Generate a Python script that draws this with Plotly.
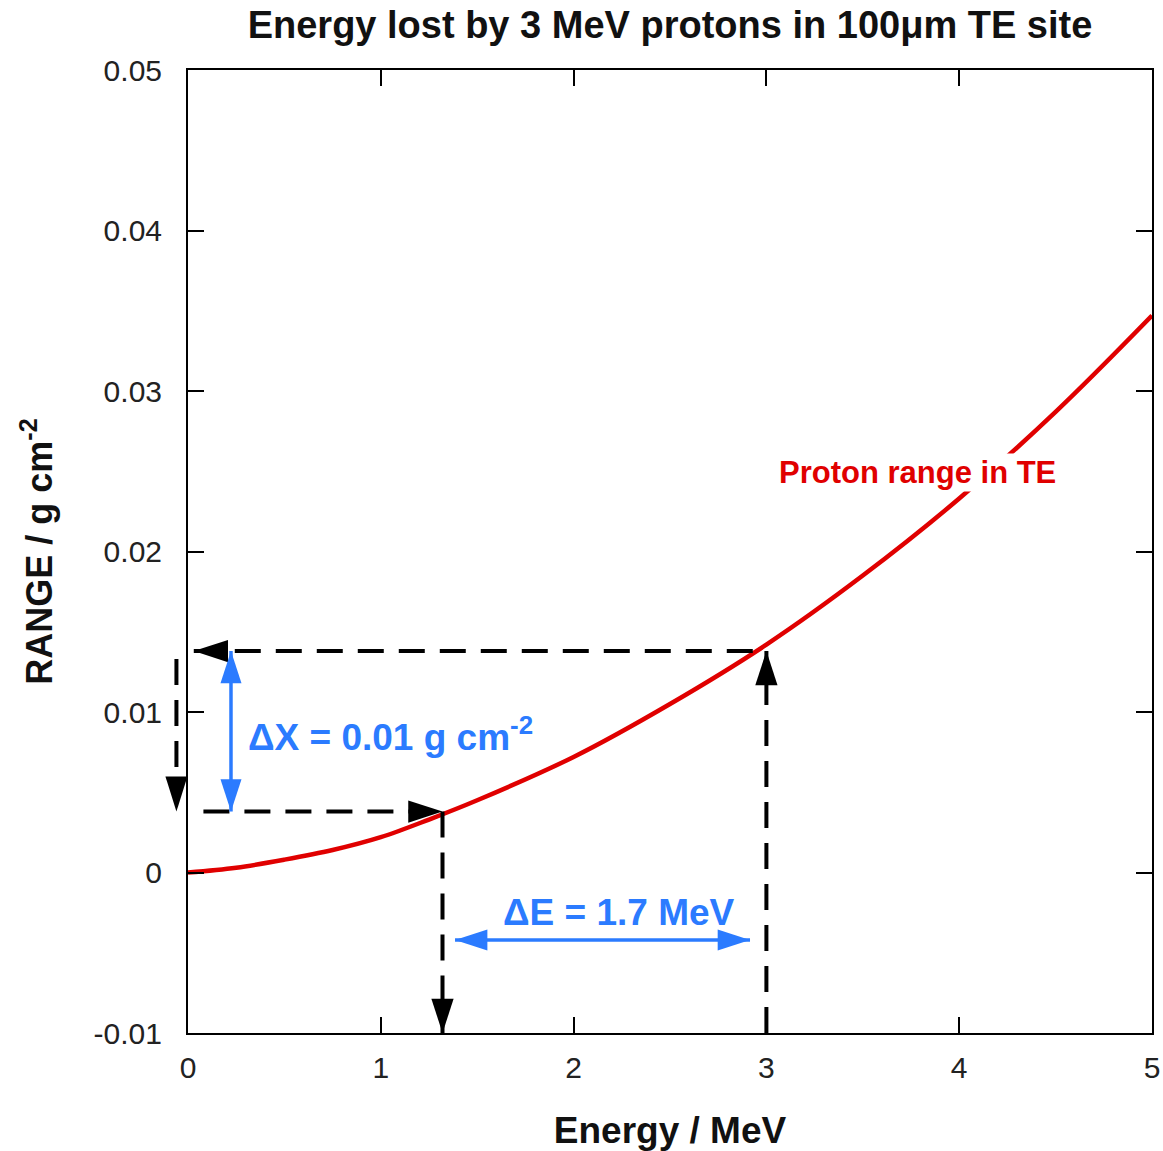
import plotly.graph_objects as go

# ---- data ----
ENERGY = [0, 0.25, 0.5, 0.75, 1.0, 1.25, 1.5, 2.0, 2.5, 3.0, 3.5, 4.0, 4.5, 5.0]
RANGE = [0, 0.0003, 0.0008, 0.0014, 0.0022, 0.0033, 0.0045, 0.0072, 0.0105,
         0.0142, 0.0185, 0.0233, 0.0287, 0.0347]

E_HIGH = 3.0        # incident energy (MeV)
R_HIGH = 0.0138     # range at E_HIGH (g cm-2)
E_LOW = 1.32        # exit energy (MeV)
R_LOW = 0.0038      # range at E_LOW (g cm-2)
E_LEFT_START = [0.03, 0.08]    # left ends of the two horizontal guide lines
E_OUTSIDE = -0.06              # vertical guide left of the axis
DX_ARROW_E = 0.223             # blue delta-X arrow position
DE_ARROW_R = -0.0042           # blue delta-E arrow position
DE_ARROW_E = [1.385, 2.915]

X_RANGE = [0, 5]
Y_RANGE = [-0.01, 0.05]
X_TICKS = [0, 1, 2, 3, 4, 5]
X_TICKTEXT = ["0", "1", "2", "3", "4", "5"]
Y_TICKS = [-0.01, 0, 0.01, 0.02, 0.03, 0.04, 0.05]
Y_TICKTEXT = ["-0.01", "0", "0.01", "0.02", "0.03", "0.04", "0.05"]

TITLE = "Energy lost by 3 MeV protons in 100μm TE site"
X_TITLE = "Energy / MeV"
Y_TITLE = "RANGE / g cm<sup>-2</sup>"
CURVE_LABEL = "Proton range in TE"
DX_LABEL = "ΔX = 0.01 g cm<sup>-2</sup>"
DE_LABEL = "ΔE = 1.7 MeV"

# ---- styles ----
FONT = "Liberation Sans, Arial, sans-serif"
RED = "#e00000"
BLUE = "#2b7bff"
BLACK = "#000000"
DASH = "26px,15px"
HEAD = 36

fig = go.Figure()

# red range curve
fig.add_trace(go.Scatter(x=ENERGY, y=RANGE, mode="lines",
                         line=dict(color=RED, width=4.5, shape="spline", smoothing=1),
                         showlegend=False, hoverinfo="skip"))

# dashed guide lines
guides = [
    ([E_LEFT_START[0], E_HIGH], [R_HIGH, R_HIGH]),
    ([E_HIGH, E_HIGH], [Y_RANGE[0], R_HIGH]),
    ([E_LEFT_START[1], E_LOW], [R_LOW, R_LOW]),
    ([E_LOW, E_LOW], [R_LOW, Y_RANGE[0]]),
]
for gx, gy in guides:
    fig.add_trace(go.Scatter(x=gx, y=gy, mode="lines",
                             line=dict(color=BLACK, width=4, dash=DASH),
                             showlegend=False, hoverinfo="skip"))

# black arrow heads (tips at the points)
fig.add_trace(go.Scatter(
    x=[E_LEFT_START[0], E_HIGH, E_LOW, E_LOW],
    y=[R_HIGH, R_HIGH, R_LOW, Y_RANGE[0]],
    mode="markers",
    marker=dict(symbol="arrow", size=HEAD, color=BLACK,
                angle=[-90, 0, 90, 180], line=dict(width=0)),
    showlegend=False, hoverinfo="skip"))

# blue double arrows
fig.add_trace(go.Scatter(x=[DX_ARROW_E, DX_ARROW_E], y=[R_LOW, R_HIGH],
                         mode="lines+markers",
                         line=dict(color=BLUE, width=3.5),
                         marker=dict(symbol="arrow", size=HEAD - 2, color=BLUE,
                                     angle=[180, 0], line=dict(width=0)),
                         showlegend=False, hoverinfo="skip"))
fig.add_trace(go.Scatter(x=DE_ARROW_E, y=[DE_ARROW_R, DE_ARROW_R],
                         mode="lines+markers",
                         line=dict(color=BLUE, width=3.5),
                         marker=dict(symbol="arrow", size=HEAD - 2, color=BLUE,
                                     angle=[-90, 90], line=dict(width=0)),
                         showlegend=False, hoverinfo="skip"))

# guide left of the y axis (paper x, data y)
x_out = (E_OUTSIDE - X_RANGE[0]) / (X_RANGE[1] - X_RANGE[0])
fig.add_shape(type="line", xref="paper", yref="y",
              x0=x_out, x1=x_out, y0=R_HIGH - 0.0005, y1=R_LOW + 0.0012,
              line=dict(color=BLACK, width=4, dash=DASH))
fig.add_shape(type="path", xref="paper", yref="y",
              xsizemode="pixel", ysizemode="pixel",
              xanchor=x_out, yanchor=R_LOW,
              path="M0,0 L-11,35 L11,35 Z",
              fillcolor=BLACK, line=dict(width=0))

# labels
fig.add_annotation(x=3.785, y=0.0249, xref="x", yref="y", text=CURVE_LABEL,
                   showarrow=False, bgcolor="white", borderpad=1,
                   font=dict(family=FONT, size=31, color=RED, weight="bold"))
fig.add_annotation(x=0.30, y=0.0086, xref="x", yref="y", text=DX_LABEL,
                   xanchor="left", showarrow=False,
                   font=dict(family=FONT, size=37, color=BLUE, weight="bold"))
fig.add_annotation(x=2.235, y=-0.0025, xref="x", yref="y", text=DE_LABEL,
                   showarrow=False,
                   font=dict(family=FONT, size=37, color=BLUE, weight="bold"))

axis_common = dict(showline=True, linecolor=BLACK, linewidth=2, mirror="ticks",
                   ticks="inside", ticklen=16, tickwidth=2, tickcolor=BLACK,
                   showgrid=False, zeroline=False, automargin=False,
                   tickfont=dict(family=FONT, size=30, color="#222222"))

fig.update_layout(
    width=1163, height=1151,
    margin=dict(l=188, r=11, t=70, b=118),
    paper_bgcolor="white", plot_bgcolor="white",
    title=dict(text=TITLE, x=0.5, xref="paper", xanchor="center",
               y=1 - 25 / 1151, yref="container", yanchor="middle",
               font=dict(family=FONT, size=38, color="#111111", weight="bold")),
    xaxis=dict(range=X_RANGE, tickvals=X_TICKS, ticktext=X_TICKTEXT,
               ticklabelstandoff=7,
               title=dict(text=X_TITLE, standoff=34,
                          font=dict(family=FONT, size=37, color="#111111", weight="bold")),
               **axis_common),
    yaxis=dict(range=Y_RANGE, tickvals=Y_TICKS, ticktext=Y_TICKTEXT,
               ticklabelstandoff=18,
               title=dict(text=Y_TITLE, standoff=30,
                          font=dict(family=FONT, size=36, color="#111111", weight="bold")),
               **axis_common),
)

fig.write_html("out.html")
